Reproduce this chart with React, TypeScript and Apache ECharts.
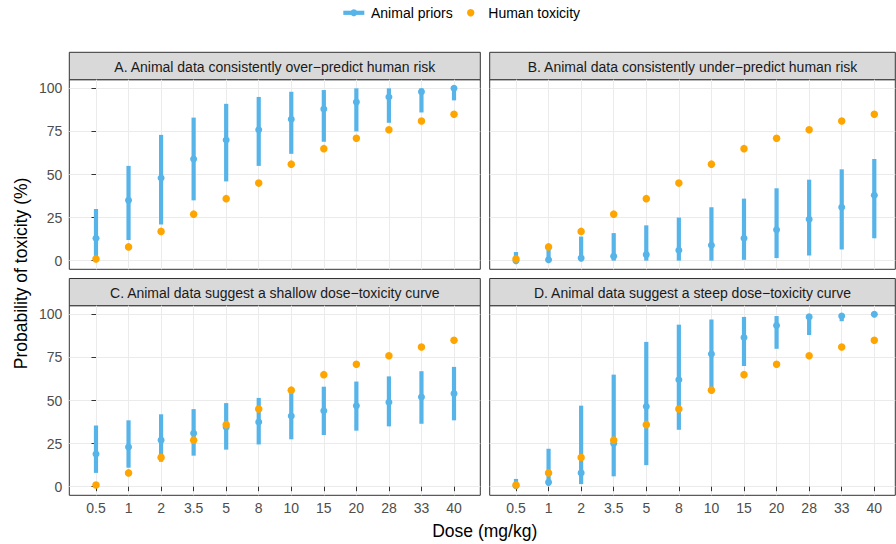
import React, { useEffect, useRef } from 'react';
import * as echarts from 'echarts';

// ---------- data ----------
const doses = ['0.5', '1', '2', '3.5', '5', '8', '10', '15', '20', '28', '33', '40'];
const yTicks = [0, 25, 50, 75, 100];
const humanToxicity = [1, 8, 17, 27, 36, 45, 56, 65, 71, 76, 81, 85];

const panelTitles = [
  'A. Animal data consistently over\u2212predict human risk',
  'B. Animal data consistently under\u2212predict human risk',
  'C. Animal data suggest a shallow dose\u2212toxicity curve',
  'D. Animal data suggest a steep dose\u2212toxicity curve',
];

const aMedian = [13, 35, 48, 59, 70, 76, 82, 88, 92, 95, 98, 100];
const aLow = [2, 12, 21, 35, 46, 55, 62, 69, 75, 80, 86, 93];
const aHigh = [30, 55, 73, 83, 91, 95, 98, 99, 100, 100, 100, 100];

const bMedian = [0, 0.5, 1.5, 2.5, 3.5, 6, 9, 13, 18, 24, 31, 38];
const bLow = [0, 0, 0, 0, 0, 0, 0, 0.5, 1.5, 3, 6.5, 13];
const bHigh = [5, 9, 14, 16, 20.5, 25, 31, 36, 42, 47, 53, 59];

const cMedian = [19, 23, 27, 31, 34.5, 37.5, 41, 44, 47, 49, 52, 54];
const cLow = [8, 11, 14.5, 18, 21.5, 24.5, 27.5, 30, 32.5, 35, 36.5, 38.5];
const cHigh = [35.5, 38.5, 42, 45, 48.5, 51.5, 54.5, 58, 61, 64, 67, 69.5];

const dMedian = [0.5, 2.5, 8, 25, 46.5, 62, 77, 86.5, 93.5, 98.5, 99, 100];
const dLow = [0, 1, 1.5, 6, 12.5, 33, 57, 70, 80, 88, 96, 99.5];
const dHigh = [4.5, 22, 47, 65, 84, 94, 97, 98.5, 99, 100, 100, 100];

const medians = [aMedian, bMedian, cMedian, dMedian];
const lows = [aLow, bLow, cLow, dLow];
const highs = [aHigh, bHigh, cHigh, dHigh];

// ---------- layout / style ----------
const BLUE = '#56B4E9';
const ORANGE = '#FFA500';
const FONT = '"Liberation Sans", Arial, Helvetica, sans-serif';

const layout = [
  { left: 69.3, top: 79.7, width: 411, height: 189.6, stripTop: 52.3, xmin: -0.82, xmax: 11.808, showX: false, showY: true },
  { left: 489.7, top: 79.7, width: 405.6, height: 189.6, stripTop: 52.3, xmin: -0.807, xmax: 11.645, showX: false, showY: false },
  { left: 69.3, top: 305.7, width: 411, height: 189.6, stripTop: 278.5, xmin: -0.82, xmax: 11.808, showX: true, showY: true },
  { left: 489.7, top: 305.7, width: 405.6, height: 189.6, stripTop: 278.5, xmin: -0.807, xmax: 11.645, showX: true, showY: false },
];

export default function App() {
  const ref = useRef<HTMLDivElement>(null);

  useEffect(() => {
    if (!ref.current) return;
    const chart = echarts.init(ref.current, undefined, { renderer: 'svg' });
    const idx = doses.map((_, k) => k);

    const grid = layout.map((p) => ({
      left: p.left,
      top: p.top,
      width: p.width,
      height: p.height,
      show: true,
      borderColor: '#333333',
      borderWidth: 1,
      backgroundColor: '#ffffff',
    }));

    const xAxis = layout.map((p, i) => ({
      type: 'value',
      gridIndex: i,
      min: p.xmin,
      max: p.xmax,
      axisLine: { show: false },
      axisTick: {
        show: p.showX,
        length: 4.5,
        customValues: idx,
        lineStyle: { color: '#333333', width: 1 },
      },
      axisLabel: {
        show: p.showX,
        customValues: idx,
        formatter: (v: number) => doses[Math.round(v)] ?? '',
        color: '#4D4D4D',
        fontSize: 14,
        fontFamily: FONT,
        margin: 6,
      },
      splitLine: { show: true, lineStyle: { color: '#EBEBEB', width: 1 } },
    }));

    const yAxis = layout.map((p, i) => ({
      type: 'value',
      gridIndex: i,
      min: -5,
      max: 105,
      axisLine: { show: false },
      axisTick: {
        show: p.showY,
        length: 4.5,
        customValues: yTicks,
        lineStyle: { color: '#333333', width: 1 },
      },
      axisLabel: {
        show: p.showY,
        customValues: yTicks,
        color: '#4D4D4D',
        fontSize: 14,
        fontFamily: FONT,
        margin: 7,
      },
      splitLine: { show: true, lineStyle: { color: '#EBEBEB', width: 1 } },
    }));

    const series: any[] = [];
    layout.forEach((_, i) => {
      series.push({
        type: 'custom',
        name: 'Animal priors',
        xAxisIndex: i,
        yAxisIndex: i,
        silent: true,
        data: idx.map((k) => [k, lows[i][k], highs[i][k]]),
        encode: { x: 0, y: [1, 2] },
        renderItem: (params: any, api: any) => {
          const x = api.value(0);
          const p1 = api.coord([x, api.value(1)]);
          const p2 = api.coord([x, api.value(2)]);
          return {
            type: 'line',
            shape: { x1: p1[0], y1: p1[1], x2: p2[0], y2: p2[1] },
            style: { stroke: BLUE, lineWidth: 4.2, lineCap: 'butt' },
          };
        },
      });
      series.push({
        type: 'scatter',
        name: 'Animal priors',
        xAxisIndex: i,
        yAxisIndex: i,
        silent: true,
        symbol: 'circle',
        symbolSize: 7,
        itemStyle: { color: BLUE, opacity: 1 },
        data: idx.map((k) => [k, medians[i][k]]),
      });
      series.push({
        type: 'scatter',
        name: 'Human toxicity',
        xAxisIndex: i,
        yAxisIndex: i,
        silent: true,
        symbol: 'circle',
        symbolSize: 7.5,
        itemStyle: { color: ORANGE, opacity: 1 },
        data: idx.map((k) => [k, humanToxicity[k]]),
      });
    });

    const graphic: any[] = [];
    layout.forEach((p, i) => {
      graphic.push({
        type: 'rect',
        shape: { x: p.left, y: p.stripTop, width: p.width, height: p.top - p.stripTop },
        style: { fill: '#D9D9D9', stroke: '#333333', lineWidth: 1 },
        silent: true,
      });
      graphic.push({
        type: 'text',
        x: p.left + p.width / 2,
        y: (p.stripTop + p.top) / 2 + 0.5,
        style: {
          text: panelTitles[i],
          fill: '#1A1A1A',
          fontSize: 14,
          fontFamily: FONT,
          textAlign: 'center',
          textVerticalAlign: 'middle',
          verticalAlign: 'middle',
        },
        silent: true,
      });
    });
    // axis titles
    graphic.push({
      type: 'text',
      x: 484.7,
      y: 530.5,
      style: {
        text: 'Dose (mg/kg)',
        fill: '#000000',
        fontSize: 17.5,
        fontFamily: FONT,
        textAlign: 'center',
        textVerticalAlign: 'middle',
        verticalAlign: 'middle',
      },
      silent: true,
    });
    graphic.push({
      type: 'text',
      x: 20.7,
      y: 273.4,
      rotation: Math.PI / 2,
      style: {
        text: 'Probability of toxicity (%)',
        fill: '#000000',
        fontSize: 17.5,
        fontFamily: FONT,
        textAlign: 'center',
        textVerticalAlign: 'middle',
        verticalAlign: 'middle',
      },
      silent: true,
    });
    // legend
    graphic.push({
      type: 'rect',
      shape: { x: 343.3, y: 10.7, width: 21, height: 4.2 },
      style: { fill: BLUE },
      silent: true,
    });
    graphic.push({
      type: 'circle',
      shape: { cx: 353.8, cy: 12.8, r: 3.5 },
      style: { fill: BLUE },
      silent: true,
    });
    graphic.push({
      type: 'text',
      x: 371,
      y: 13,
      style: {
        text: 'Animal priors',
        fill: '#000000',
        fontSize: 14,
        fontFamily: FONT,
        textAlign: 'left',
        textVerticalAlign: 'middle',
        verticalAlign: 'middle',
      },
      silent: true,
    });
    graphic.push({
      type: 'circle',
      shape: { cx: 470.7, cy: 12.8, r: 3.7 },
      style: { fill: ORANGE },
      silent: true,
    });
    graphic.push({
      type: 'text',
      x: 488.3,
      y: 13,
      style: {
        text: 'Human toxicity',
        fill: '#000000',
        fontSize: 14,
        fontFamily: FONT,
        textAlign: 'left',
        textVerticalAlign: 'middle',
        verticalAlign: 'middle',
      },
      silent: true,
    });

    chart.setOption({
      animation: false,
      backgroundColor: '#ffffff',
      textStyle: { fontFamily: FONT },
      grid,
      xAxis,
      yAxis,
      series,
      graphic,
    });

    return () => chart.dispose();
  }, []);

  return (
    <div
      ref={ref}
      style={{ position: 'absolute', left: 0, top: 0, width: 896, height: 544 }}
    />
  );
}
